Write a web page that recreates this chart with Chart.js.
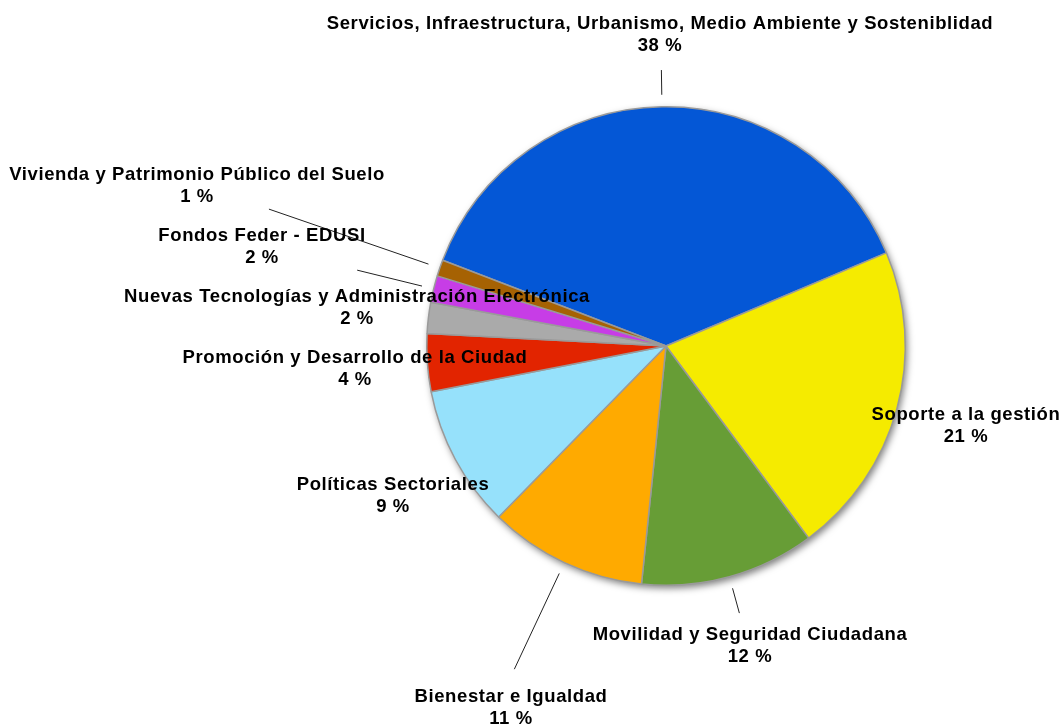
<!DOCTYPE html>
<html>
<head>
<meta charset="utf-8">
<script src="https://cdn.jsdelivr.net/npm/chart.js@4.4.1/dist/chart.umd.min.js"></script>
<style>
  html, body { margin: 0; padding: 0; background: #fff; }
  #wrap { width: 1061px; height: 724px; }
</style>
</head>
<body>
<div id="wrap"><canvas id="pie"></canvas></div>
<script>
// Data (share of budget, %)
const categories = [
  'Servicios, Infraestructura, Urbanismo, Medio Ambiente y Sosteniblidad',
  'Soporte a la gestión',
  'Movilidad y Seguridad Ciudadana',
  'Bienestar e Igualdad',
  'Políticas Sectoriales',
  'Promoción y Desarrollo de la Ciudad',
  'Nuevas Tecnologías y Administración Electrónica',
  'Fondos Feder - EDUSI',
  'Vivienda y Patrimonio Público del Suelo'
];
const shares = [37.8, 21.2, 11.8, 10.7, 9.6, 3.9, 2.1, 1.8, 1.1];
const percentLabels = ['38 %', '21 %', '12 %', '11 %', '9 %', '4 %', '2 %', '2 %', '1 %'];

const colors = ['#0457d6', '#f5eb00', '#679d36', '#ffaa00', '#96e1fb', '#e22400', '#aaaaaa', '#c73de6', '#a66203'];

// where each label's name line is centred, and how far its leader line reaches (0 = no line)
const labelPos = [[660, 24], [966, 415], [750, 635], [511, 697], [393, 485], [355, 358], [357, 297], [262, 236], [197, 175]];
const leaderEnd = [276, 0, 277, 357, 0, 0, 0, 318, 420];

const FONT = 'bold 18.5px "Liberation Sans", Arial, sans-serif';

const shadowPlugin = {
  id: 'shadow',
  beforeDatasetsDraw(chart) {
    const arc = chart.getDatasetMeta(0).data[0];
    if (!arc) return;
    const ctx = chart.ctx;
    ctx.save();
    ctx.shadowColor = 'rgba(0,0,0,0.5)';
    ctx.shadowBlur = 7;
    ctx.shadowOffsetX = 2;
    ctx.shadowOffsetY = 3;
    ctx.fillStyle = '#999';
    ctx.beginPath();
    ctx.arc(arc.x, arc.y, arc.outerRadius, 0, Math.PI * 2);
    ctx.fill();
    ctx.restore();
  }
};

const labelPlugin = {
  id: 'labels',
  afterDatasetsDraw(chart) {
    const ctx = chart.ctx;
    const arcs = chart.getDatasetMeta(0).data;
    ctx.save();
    // leader lines, radial from the slice middle
    ctx.strokeStyle = '#222';
    ctx.lineWidth = 1;
    arcs.forEach((arc, i) => {
      if (!leaderEnd[i]) return;
      const mid = (arc.startAngle + arc.endAngle) / 2;
      const r0 = arc.outerRadius + 12;
      ctx.beginPath();
      ctx.moveTo(arc.x + Math.cos(mid) * r0, arc.y + Math.sin(mid) * r0);
      ctx.lineTo(arc.x + Math.cos(mid) * leaderEnd[i], arc.y + Math.sin(mid) * leaderEnd[i]);
      ctx.stroke();
    });
    // text
    ctx.fillStyle = '#000';
    ctx.font = FONT;
    ctx.letterSpacing = '0.6px';
    ctx.textAlign = 'center';
    ctx.textBaseline = 'middle';
    categories.forEach((name, i) => {
      const [x, y] = labelPos[i];
      ctx.fillText(name, x, y);
      ctx.fillText(percentLabels[i], x, y + 22);
    });
    ctx.restore();
  }
};

new Chart(document.getElementById('pie'), {
  type: 'pie',
  data: {
    labels: categories,
    datasets: [{
      data: shares,
      backgroundColor: colors,
      borderColor: '#9a9a9a',
      borderWidth: 1.5
    }]
  },
  options: {
    responsive: true,
    maintainAspectRatio: false,
    animation: false,
    rotation: -69,
    layout: { padding: { left: 426, right: 155, top: 106, bottom: 138 } },
    plugins: {
      legend: { display: false },
      tooltip: { enabled: false }
    }
  },
  plugins: [shadowPlugin, labelPlugin]
});
</script>
</body>
</html>
